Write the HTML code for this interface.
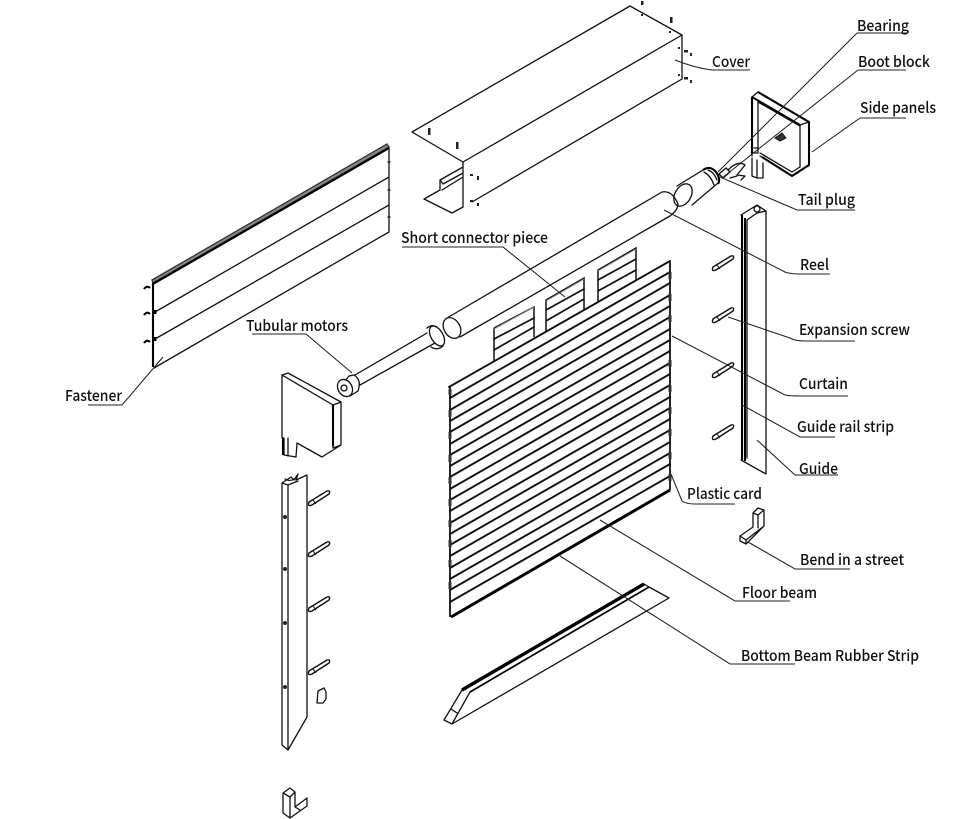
<!DOCTYPE html>
<html lang="en"><head><meta charset="utf-8"><title>Roller shutter exploded diagram</title>
<style>
html,body{margin:0;padding:0;background:#fff}
svg{display:block;width:960px;height:819px}
text{font-family:"Noto Sans CJK SC","Liberation Sans",sans-serif;font-size:15px;font-weight:500;fill:#111}
.l{stroke:#111;fill:none;stroke-width:1.3;stroke-linejoin:round;stroke-linecap:round}
.t{stroke:#000;fill:none;stroke-width:2.1;stroke-linejoin:round}
.n{stroke:#222;fill:none;stroke-width:1.05}
.w{fill:#fff;stroke:#111;stroke-width:1.3;stroke-linejoin:round}
</style></head><body>
<svg viewBox="0 0 960 819" xmlns="http://www.w3.org/2000/svg">
<defs>
<g id="sc"><path class="w" d="M-10 4 L8 -7 Q12 -8 10 -4 L-7 7 Q-12 9 -10 4Z" style="stroke-width:1.4"/><path class="n" d="M-6 2 L-3 6"/></g>
</defs>
<!-- cover -->
<path class="l" d="M412 132 L630 6 L682 35 L463 162 Z"/>
<path class="l" d="M682 35 V79 L472 202 M463 162 V207 L452 213 L424 199 L440 190 V180 L463 167 M440 180 L443 184 L463 173 M442 190 L463 177"/>
<g fill="#222"><rect x="428" y="128" width="2.5" height="7"/><rect x="456" y="142" width="2.5" height="7"/><rect x="641" y="1" width="2.5" height="4"/><rect x="670" y="17" width="2.5" height="6"/>
<rect x="684" y="50" width="4" height="2.5"/><rect x="690" y="53" width="2" height="3"/><rect x="684" y="77" width="4" height="2.5"/><rect x="690" y="80" width="2" height="3"/>
<rect x="470" y="174" width="3" height="2"/><rect x="477" y="176" width="2" height="4"/><rect x="470" y="200" width="3" height="2"/><rect x="477" y="203" width="2" height="3"/>
<rect x="641" y="14" width="2" height="2"/><rect x="669" y="31" width="2" height="2"/><rect x="678" y="47" width="2" height="2"/><rect x="678" y="74" width="2" height="2"/></g>
<!-- left panel -->
<path d="M152 280 L387 144 L389 147 L153 283Z" fill="#888" stroke="#333" stroke-width="1.3"/>
<path class="l" d="M389 148 V232 L154 368 M155 312 L389 177 M155 339 L389 205 M388 162 h2 M388 190 h2 M388 217 h2"/>
<path class="t" d="M153 283 V367 M153 284 L389 148"/>
<path d="M155 310V314M155 337V341" stroke="#000" stroke-width="3"/>
<path class="t" d="M144 289 Q147 285 150 288 M144 315 Q147 311 150 314 M144 343 Q147 339 150 342" stroke-width="1.6"/>
<!-- right side panel -->
<path class="l" d="M752 97 L758 92 L809 122 V165 L792 176 L760 156 M800 125 V167 L792 172 L760 153 M752 97 V156 M758 102 V152 M800 125 L809 122 M758 102 L800 126 M752 97 L800 125"/>
<path class="t" d="M758 92 L809 122 V165 L792 176 L762 157" stroke-width="1.8"/>
<path class="t" d="M752 97 V154 M752 97 L800 125" stroke-width="1.6"/>
<path d="M775 138 L782 133 L786 138 L780 141Z" fill="#333" stroke="#111"/>
<path class="l" d="M752 158 V176 L757 178 L763 178 V163 M757 160 V178 M754 148 h4 M753 153 h5"/>
<!-- plug -->
<ellipse class="w" cx="683" cy="195" rx="8" ry="12" transform="rotate(30 683 195)"/>
<path class="l" d="M677 186 L703 170 M692 205 L718 183"/>
<path class="t" d="M703 170 Q710 165 716 172 Q721 179 718 184" stroke-width="1.6"/>
<path class="l" d="M708 170 Q714 172 717 180 M704 172 Q711 176 714 185"/>
<path class="l" d="M719 174 L726 168 L730 172 L723 178 Z M728 170 Q738 160 745 165 L737 175 L745 176 L741 180 M730 178 L737 176"/>
<!-- reel -->
<path class="l" d="M447 318 L662 192 Q672 190 678 204 Q678 210 670 216 L460 337"/>
<ellipse class="w" cx="452" cy="328" rx="8" ry="11" transform="rotate(-30 452 328)"/>
<!-- motor -->
<path class="l" d="M355 375 L427 333 M360 385 L435 343 "/>
<ellipse class="w" cx="437" cy="336" rx="6" ry="11" transform="rotate(-30 437 336)"/>
<path class="l" d="M427 328 Q432 324 437 327 M431 347 Q437 351 443 346"/>
<path class="w" d="M349 376 L354 375 Q362 380 358 391 L350 396 L345 381Z"/>
<ellipse class="w" cx="345" cy="388" rx="7" ry="9" transform="rotate(-30 345 388)"/>
<circle class="l" cx="344" cy="388" r="3"/>
<!-- left cap -->
<path class="l" d="M282 375 L288 373 L341 402 V445 L322 457 L297 443 L296 457 L284 455 V438 L282 438 Z M282 375 L333 405 V448 M333 405 L341 402 M333 448 L341 445 M288 438 V456"/>
<path class="t" d="M333 405 V446" stroke-width="1.6"/>
<path class="t" d="M283 438 V455" stroke-width="1.6"/>
<!-- left guide -->
<path class="l" d="M282 483 L291 477 L294 480 L298 474 L296 480 L307 475 V717 L288 750 L282 745 V483 M288 485 V750 M282 483 L288 485 L298 481 M285 479 Q290 482 294 479"/>
<g fill="#222"><circle cx="285" cy="517" r="2"/><circle cx="285" cy="569" r="2"/><circle cx="285" cy="623" r="2"/><circle cx="285" cy="687" r="2"/></g>
<use href="#sc" x="319" y="498"/><use href="#sc" x="319" y="549"/><use href="#sc" x="319" y="604"/><use href="#sc" x="319" y="667"/>
<path class="w" d="M318 691 L324 688 L326 692 V699 L323 703 H317Z" stroke-width="1.5"/>
<path class="l" d="M283 793 L290 788 L295 792 V807 L307 798 V806 L290 818 L283 813 Z M283 793 L290 797 V818 M290 797 L295 792 M295 807 L300 810"/>
<!-- right guide -->
<path class="l" d="M741 215 L757 205 L766 211 V474 L741 460 M747 220 L757 213 M747 220 V458 M757 213 L766 211"/>
<ellipse class="l" cx="757" cy="209" rx="3" ry="3"/>
<path class="t" d="M742 215 V460 M745 218 V461" stroke-width="1.6"/>
<use href="#sc" x="723" y="263"/><use href="#sc" x="723" y="315"/><use href="#sc" x="723" y="370"/><use href="#sc" x="723" y="432"/>
<path class="l" d="M753 513 L758 508 L764 510 V526 L746 544 L740 541 V536 L753 527 Z M740 536 L746 540 V544 M746 540 L764 526 M753 513 L758 515 V528 M758 515 L764 510"/>
<!-- tabs -->
<path d="M494 328 L534 307 V337 M494 362 V328 M546 332 V300 L584 278 V310 M598 302 V270 L636 248 V280" fill="#fff" stroke="#111" stroke-width="1.5"/>
<path class="l" d="M494 339 L534 318 M494 350 L534 327 M546 310 L584 289 M546 321 L584 299 M598 280 L636 259 M598 291 L636 270" style="stroke-width:1.7"/>
<path d="M494 329L534 307M546 301L584 279M598 271L636 249" stroke="#888" fill="none"/>
<!-- curtain -->
<path d="M449 387 L670 261 V490 L451 617Z" fill="#fff"/>
<g class="l" style="stroke-width:1.9;stroke:#111">
<path d="M449 387L670 261M450 398L670 272M450 410L670 283M450 421L670 295M450 432L670 306M450 444L670 317M450 455L670 329M450 466L670 340M450 477L670 351M450 489L670 363M450 500L670 374M450 511L670 385M450 523L670 397M450 534L670 408M450 545L670 419M450 556L670 430M450 568L670 442M450 579L670 453M450 590L670 464M450 602L670 476"/>
</g>
<path d="M450 387V617M670 261V490" stroke="#111" stroke-width="1.8" fill="none"/>
<path d="M451 617 L670 490" stroke="#000" stroke-width="3" fill="none"/>
<g stroke="#333" stroke-width="3" fill="none"><path d="M450 389v6M450 410v7M450 432v7M450 455v7M450 477v7M450 499v7M450 520v7M450 540v7M450 560v7M450 582v7M670 272v7M670 294v7M670 315v7M670 360v7M670 385v7M670 407v7M670 429v7M670 452v7M670 474v7"/></g>
<!-- bottom beam -->
<path class="l" d="M444 720 L452 724 L669 598 L649 587 M444 720 L462 690 M452 724 L470 692 M451 709 L457 713 M649 587 L644 584"/>
<path d="M649 587 L470 692" stroke="#000" stroke-width="1.7" fill="none"/>
<path d="M462 690 L644 584" stroke="#000" stroke-width="3.4" fill="none"/>
<!-- leaders -->
<g class="n">
<path d="M857 33 H908 M857 33 L718 172"/>
<path d="M858 70 H906 M858 70 L722 178"/>
<path d="M860 118 H906 M860 118 L812 152"/>
<path d="M675 60 Q695 68 712 70 H750"/>
<path d="M720 177 L797 210 H855"/>
<path d="M664 210 L785 272 Q790 274 800 274 H830"/>
<path d="M728 317 L790 338 Q795 341 805 341 H855"/>
<path d="M672 336 L785 395 Q790 396 800 396 H848"/>
<path d="M742 405 L800 437 H835"/>
<path d="M757 440 L795 475 L838 475"/>
<path d="M671 474 L682 501 Q686 504 695 504 H735"/>
<path d="M748 542 L795 569 H850"/>
<path d="M600 520 L735 601 H790"/>
<path d="M560 556 L730 664 H795"/>
<path d="M402 247 H503 L565 297"/>
<path d="M252 334 H306 L352 373"/>
<path d="M88 405 H122 L163 357"/>
</g>
<!-- labels -->
<text x="857" y="31" textLength="52" lengthAdjust="spacingAndGlyphs">Bearing</text>
<text x="858" y="67" textLength="72" lengthAdjust="spacingAndGlyphs">Boot block</text>
<text x="860" y="113" textLength="76" lengthAdjust="spacingAndGlyphs">Side panels</text>
<text x="712" y="67" textLength="38" lengthAdjust="spacingAndGlyphs">Cover</text>
<text x="798" y="205" textLength="57" lengthAdjust="spacingAndGlyphs">Tail plug</text>
<text x="401" y="243" textLength="147" lengthAdjust="spacingAndGlyphs">Short connector piece</text>
<text x="800" y="270" textLength="29" lengthAdjust="spacingAndGlyphs">Reel</text>
<text x="799" y="335" textLength="111" lengthAdjust="spacingAndGlyphs">Expansion screw</text>
<text x="246" y="331" textLength="102" lengthAdjust="spacingAndGlyphs">Tubular motors</text>
<text x="799" y="389" textLength="49" lengthAdjust="spacingAndGlyphs">Curtain</text>
<text x="65" y="401" textLength="57" lengthAdjust="spacingAndGlyphs">Fastener</text>
<text x="797" y="432" textLength="97" lengthAdjust="spacingAndGlyphs">Guide rail strip</text>
<text x="799" y="474" textLength="39" lengthAdjust="spacingAndGlyphs">Guide</text>
<text x="687" y="499" textLength="75" lengthAdjust="spacingAndGlyphs">Plastic card</text>
<text x="800" y="565" textLength="104" lengthAdjust="spacingAndGlyphs">Bend in a street</text>
<text x="742" y="598" textLength="75" lengthAdjust="spacingAndGlyphs">Floor beam</text>
<text x="741" y="661" textLength="178" lengthAdjust="spacingAndGlyphs">Bottom Beam Rubber Strip</text>
</svg>
</body></html>
